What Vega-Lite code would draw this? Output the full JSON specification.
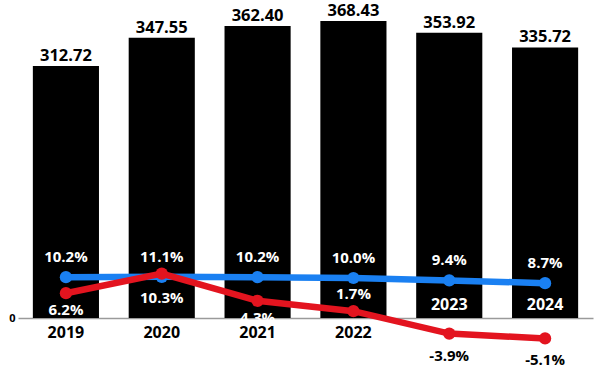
{
  "$schema": "https://vega.github.io/schema/vega-lite/v6.json",
  "width": 575,
  "height": 318,
  "autosize": "none",
  "padding": {"left": 18, "top": 0, "right": 7, "bottom": 57},
  "background": "white",
  "config": {
    "view": {"stroke": null},
    "font": "Open Sans",
    "text": {"font": "Open Sans", "fontWeight": "bold"}
  },
  "datasets": {
    "sales": [
      {"year": "2019", "value": 312.72},
      {"year": "2020", "value": 347.55},
      {"year": "2021", "value": 362.40},
      {"year": "2022", "value": 368.43},
      {"year": "2023", "value": 353.92},
      {"year": "2024", "value": 335.72}
    ],
    "rates": [
      {"year": "2019", "series": "Margin", "rate": 0.102},
      {"year": "2020", "series": "Margin", "rate": 0.103},
      {"year": "2021", "series": "Margin", "rate": 0.102},
      {"year": "2022", "series": "Margin", "rate": 0.100},
      {"year": "2023", "series": "Margin", "rate": 0.094},
      {"year": "2024", "series": "Margin", "rate": 0.087},
      {"year": "2019", "series": "Growth", "rate": 0.062},
      {"year": "2020", "series": "Growth", "rate": 0.111},
      {"year": "2021", "series": "Growth", "rate": 0.043},
      {"year": "2022", "series": "Growth", "rate": 0.017},
      {"year": "2023", "series": "Growth", "rate": -0.039},
      {"year": "2024", "series": "Growth", "rate": -0.051}
    ]
  },
  "encoding": {
    "x": {
      "field": "year",
      "type": "ordinal",
      "scale": {"paddingInner": 0.31, "paddingOuter": 0.155},
      "axis": {"labels": false, "ticks": false, "title": null, "domainColor": "#9a9a9a", "domainWidth": 1.5}
    }
  },
  "layer": [
    {
      "data": {"name": "sales"},
      "mark": {"type": "bar", "color": "black"},
      "encoding": {
        "y": {
          "field": "value", "type": "quantitative",
          "scale": {"domain": [0, 394.5], "nice": false, "zero": true},
          "axis": {"values": [0], "grid": false, "domain": false, "ticks": false, "title": null,
                   "labelFont": "Open Sans", "labelFontWeight": "bold", "labelFontSize": 11,
                   "labelColor": "black", "labelPadding": 3}
        }
      }
    },
    {
      "data": {"name": "sales"},
      "mark": {"type": "text", "baseline": "bottom", "dy": -2, "fontSize": 16.5, "color": "black"},
      "encoding": {
        "y": {"field": "value", "type": "quantitative", "scale": {"domain": [0, 394.5], "nice": false}, "axis": null},
        "text": {"field": "value", "type": "quantitative", "format": ".2f"}
      }
    },
    {
      "data": {"name": "sales"},
      "transform": [{"filter": "datum.year < '2023'"}],
      "mark": {"type": "text", "baseline": "middle", "dy": 15, "fontSize": 16, "color": "black"},
      "encoding": {
        "y": {"datum": 0, "type": "quantitative", "scale": {"domain": [0, 394.5], "nice": false}, "axis": null},
        "text": {"field": "year", "type": "nominal"}
      }
    },
    {
      "data": {"name": "sales"},
      "transform": [{"filter": "datum.year >= '2023'"}],
      "mark": {"type": "text", "baseline": "middle", "dy": -13, "fontSize": 16, "color": "white"},
      "encoding": {
        "y": {"datum": 0, "type": "quantitative", "scale": {"domain": [0, 394.5], "nice": false}, "axis": null},
        "text": {"field": "year", "type": "nominal"}
      }
    },
    {
      "data": {"name": "rates"},
      "transform": [{"filter": "datum.series == 'Margin'"}],
      "mark": {"type": "line", "color": "#1a80f2", "strokeWidth": 6.5},
      "encoding": {
        "y": {"field": "rate", "type": "quantitative", "scale": {"domain": [0, 0.795], "nice": false, "zero": false}, "axis": null}
      }
    },
    {
      "data": {"name": "rates"},
      "transform": [{"filter": "datum.series == 'Margin'"}],
      "mark": {"type": "point", "filled": true, "opacity": 1, "color": "#1a80f2", "size": 150},
      "encoding": {
        "y": {"field": "rate", "type": "quantitative", "scale": {"domain": [0, 0.795], "nice": false, "zero": false}, "axis": null}
      }
    },
    {
      "data": {"name": "rates"},
      "transform": [{"filter": "datum.series == 'Growth'"}],
      "mark": {"type": "line", "color": "#e3141f", "strokeWidth": 6.5},
      "encoding": {
        "y": {"field": "rate", "type": "quantitative", "scale": {"domain": [0, 0.795], "nice": false, "zero": false}, "axis": null}
      }
    },
    {
      "data": {"name": "rates"},
      "transform": [{"filter": "datum.series == 'Growth'"}],
      "mark": {"type": "point", "filled": true, "opacity": 1, "color": "#e3141f", "size": 150},
      "encoding": {
        "y": {"field": "rate", "type": "quantitative", "scale": {"domain": [0, 0.795], "nice": false, "zero": false}, "axis": null}
      }
    },
    {
      "data": {"name": "rates"},
      "transform": [{"filter": "datum.series == 'Margin' && datum.year != '2020'"}],
      "mark": {"type": "text", "baseline": "middle", "dy": -20, "fontSize": 15, "color": "white"},
      "encoding": {
        "y": {"field": "rate", "type": "quantitative", "scale": {"domain": [0, 0.795], "nice": false, "zero": false}, "axis": null},
        "text": {"field": "rate", "type": "quantitative", "format": ".1%"}
      }
    },
    {
      "data": {"name": "rates"},
      "transform": [{"filter": "datum.series == 'Margin' && datum.year == '2020'"}],
      "mark": {"type": "text", "baseline": "middle", "dy": 21, "fontSize": 15, "color": "white"},
      "encoding": {
        "y": {"field": "rate", "type": "quantitative", "scale": {"domain": [0, 0.795], "nice": false, "zero": false}, "axis": null},
        "text": {"field": "rate", "type": "quantitative", "format": ".1%"}
      }
    },
    {
      "data": {"name": "rates"},
      "transform": [{"filter": "datum.series == 'Growth' && (datum.year == '2020' || datum.year == '2022')"}],
      "mark": {"type": "text", "baseline": "middle", "dy": -17, "fontSize": 15, "color": "white"},
      "encoding": {
        "y": {"field": "rate", "type": "quantitative", "scale": {"domain": [0, 0.795], "nice": false, "zero": false}, "axis": null},
        "text": {"field": "rate", "type": "quantitative", "format": ".1%"}
      }
    },
    {
      "data": {"name": "rates"},
      "transform": [{"filter": "datum.series == 'Growth' && (datum.year == '2019' || datum.year == '2021')"}],
      "mark": {"type": "text", "baseline": "middle", "dy": 17, "fontSize": 15, "color": "white"},
      "encoding": {
        "y": {"field": "rate", "type": "quantitative", "scale": {"domain": [0, 0.795], "nice": false, "zero": false}, "axis": null},
        "text": {"field": "rate", "type": "quantitative", "format": ".1%"}
      }
    },
    {
      "data": {"name": "rates"},
      "transform": [
        {"filter": "datum.series == 'Growth' && datum.rate < 0"},
        {"calculate": "replace(format(datum.rate, '.1%'), '\u2212', '-')", "as": "label"}
      ],
      "mark": {"type": "text", "baseline": "middle", "dy": 22, "fontSize": 15, "color": "black"},
      "encoding": {
        "y": {"field": "rate", "type": "quantitative", "scale": {"domain": [0, 0.795], "nice": false, "zero": false}, "axis": null},
        "text": {"field": "label", "type": "nominal"}
      }
    }
  ],
  "resolve": {"scale": {"y": "independent"}}
}
